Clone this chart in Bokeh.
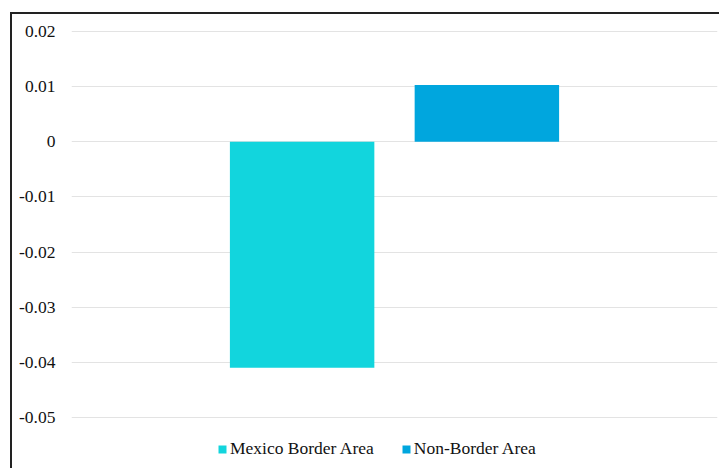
from bokeh.plotting import figure
from bokeh.models import ColumnDataSource, FactorRange, Range1d, Legend, LegendItem, FixedTicker
from bokeh.layouts import column
from bokeh.transform import dodge
from bokeh.embed import file_html
from bokeh.resources import INLINE

group = ["All"]
series_names = ["Mexico Border Area", "Non-Border Area"]
series_values = [-0.041, 0.0103]
series_colors = ["#12D5DD", "#00A6DE"]
y_ticks = [-0.05, -0.04, -0.03, -0.02, -0.01, 0, 0.01, 0.02]
y_tick_labels = ["-0.05", "-0.04", "-0.03", "-0.02", "-0.01", "0", "0.01", "0.02"]

FONT = "Liberation Serif"

p = figure(width=709, height=456, x_range=FactorRange(factors=group),
           y_range=Range1d(-0.0589, 0.0202), output_backend="svg", toolbar_location=None,
           min_border_left=59, min_border_right=4, min_border_top=16, min_border_bottom=4)
p.outline_line_color = None
p.xaxis.visible = False
p.xgrid.visible = False
p.ygrid.grid_line_color = "#E3E3E3"
p.ygrid.grid_line_width = 1.2

p.yaxis.ticker = FixedTicker(ticks=y_ticks)
p.yaxis.major_label_overrides = dict(zip(y_ticks, y_tick_labels))
p.yaxis.axis_line_color = None
p.yaxis.major_tick_line_color = None
p.yaxis.minor_tick_line_color = None
p.yaxis.major_tick_out = 0
p.yaxis.major_tick_in = 0
p.yaxis.major_label_text_font = FONT
p.yaxis.major_label_text_font_size = "17.5px"
p.yaxis.major_label_text_color = "#111111"
p.yaxis.major_label_standoff = 16

offsets = [-0.143, 0.143]
items = []
for name, val, col, off in zip(series_names, series_values, series_colors, offsets):
    src = ColumnDataSource(dict(x=group, top=[val]))
    r = p.vbar(x=dodge("x", off, range=p.x_range), top="top", bottom=0, width=0.2236,
               source=src, fill_color=col, line_color=None)
    items.append(LegendItem(label=name, renderers=[r]))

legend = Legend(items=items, orientation="horizontal", location=(146, 7),
                label_text_font=FONT, label_text_font_size="17.5px", label_text_color="#111111",
                glyph_width=10, glyph_height=10, label_standoff=3, spacing=27,
                border_line_alpha=0, background_fill_alpha=0, padding=0, margin=0)
p.add_layout(legend, "center")

layout = column(p, styles={"margin-left": "10px", "margin-top": "12px",
                           "border-left": "2px solid #222", "border-top": "2px solid #222"})

open("out.html", "w").write(file_html(layout, INLINE))
